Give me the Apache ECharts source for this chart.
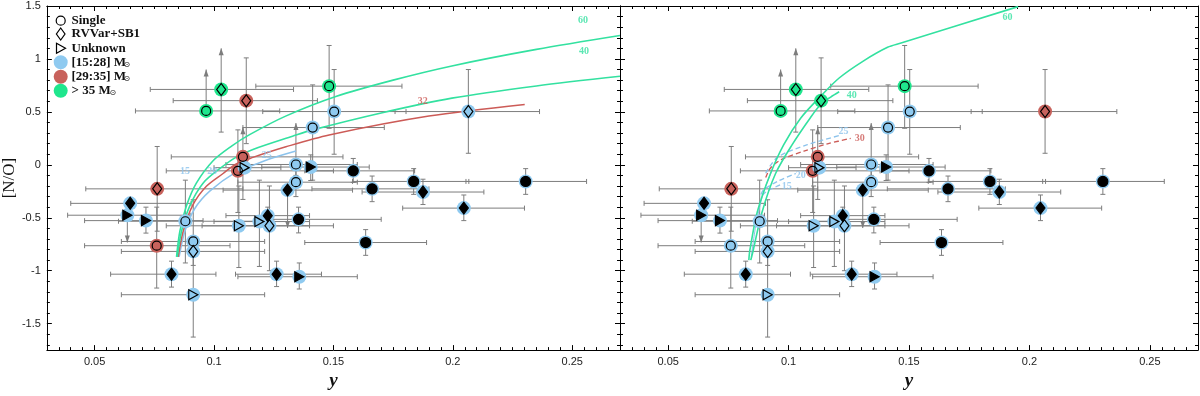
<!DOCTYPE html>
<html>
<head>
<meta charset="utf-8">
<script src="https://cdn.jsdelivr.net/npm/echarts@6.0.0/dist/echarts.min.js"></script>
<style>
    html, body { margin: 0; padding: 0; background: #fff; }
    #chart { width: 1200px; height: 396px; }
</style>
</head>
<body>
<div id="chart"></div>
<script>
    // stars: helium abundance y, [N/O], error bars, arrow (1 up / -1 down limit)
    var ptX = [0.0967,0.103,0.1135,0.1482,0.1503,0.1413,0.2065,0.1121,0.110,0.1128,0.0762,0.076,0.0649,0.0637,0.0715,0.088,0.0913,0.0913,0.0913,0.0822,0.1104,0.119,0.1232,0.1225,0.1262,0.1357,0.1354,0.1308,0.1343,0.1343,0.1405,0.1583,0.1662,0.1836,0.1875,0.2046,0.2305,0.1635];
    var ptY = [0.509,0.712,0.606,0.743,0.503,0.352,0.503,0.075,-0.057,-0.027,-0.227,-0.764,-0.364,-0.476,-0.527,-0.533,-0.724,-0.818,-1.227,-1.033,-0.576,-0.536,-0.576,-0.48,-1.033,-1.057,-0.515,-0.239,-0.164,0.003,-0.021,-0.057,-0.227,-0.157,-0.257,-0.409,-0.157,-0.734];
    var xLo = [0.0671,0.0733,0.0829,0.1175,0.1204,0.1121,0.1758,0.0821,0.080,0.100,0.0463,0.0458,0.040,0.0387,0.0458,0.060,0.0612,0.0612,0.0612,0.0567,0.080,0.100,0.095,0.105,0.109,0.110,0.120,0.1038,0.110,0.105,0.120,0.138,0.141,0.158,0.162,0.179,0.2055,0.138];
    var xHi = [0.1275,0.1333,0.1433,0.1787,0.1804,0.1713,0.2363,0.154,0.150,0.128,0.1121,0.1067,0.0904,0.090,0.0954,0.125,0.1212,0.1212,0.1212,0.1008,0.140,0.140,0.150,0.140,0.145,0.160,0.170,0.158,0.160,0.160,0.165,0.184,0.190,0.2067,0.213,0.230,0.256,0.189];
    var yLo = [0.509,0.309,0.20,0.345,0.10,-0.145,0.109,-0.327,-0.45,-0.027,-0.627,-1.164,-0.364,-0.733,-0.645,-0.927,-0.95,-0.818,-1.627,-1.155,-0.97,-0.96,-1.0,-0.55,-1.15,-1.173,-0.643,-0.597,-0.30,-0.10,-0.148,-0.166,-0.348,-0.279,-0.375,-0.527,-0.279,-0.855];
    var yHi = [0.90,1.10,1.01,1.127,0.90,0.755,0.90,0.355,0.33,-0.027,0.173,-0.40,-0.364,-0.476,-0.40,-0.145,-0.33,-0.818,-0.85,-0.91,-0.20,-0.145,-0.20,-0.40,-0.91,-0.927,-0.40,-0.239,-0.05,0.394,0.094,0.06,-0.106,-0.036,-0.136,-0.285,-0.036,-0.612];
    var ptArrow = [1,1,0,0,0,0,0,1,0,0,0,0,0,-1,0,0,0,0,0,0,0,0,0,0,0,0,0,-1,0,1,0,0,0,0,0,0,0,0];
    // c = single, d = RVVar+SB1, t = unknown
    var ptShape = ['c','d','d','c','c','c','d','c','c','t','d','c','d','t','t','c','c','d','t','d','t','t','d','d','d','t','c','d','c','c','t','c','c','c','d','d','c','c'];
    var ptFilled = [0,0,0,0,0,0,0,0,0,0,0,0,1,1,1,0,0,0,0,1,0,0,0,1,1,1,1,1,0,0,1,1,1,1,1,1,1,1];
    // mass class: 0 = [15:28], 1 = [29:35], 2 = >35
    var massLeft  = [2,2,1,2,0,0,0,1,1,0,1,1,0,0,0,0,0,0,0,0,0,0,0,0,0,0,0,0,0,0,0,0,0,0,0,0,0,0];
    var massRight = [2,2,2,2,0,0,1,1,1,0,1,0,0,0,0,0,0,0,0,0,0,0,0,0,0,0,0,0,0,0,0,0,0,0,0,0,0,0];

    // model tracks, left panel
    var trackL60 = [[0.0843,-0.87],[0.0857,-0.627],[0.0885,-0.385],[0.0926,-0.173],[0.0996,0.039],[0.1072,0.175],[0.1149,0.285],[0.13,0.46],[0.151,0.645],[0.175,0.80],[0.1996,0.934],[0.235,1.09],[0.27,1.221]];
    var trackL40 = [[0.0846,-0.87],[0.0864,-0.627],[0.0899,-0.385],[0.0954,-0.173],[0.1024,-0.036],[0.1093,0.073],[0.1163,0.145],[0.1329,0.27],[0.1413,0.33],[0.17,0.49],[0.1996,0.63],[0.235,0.745],[0.27,0.836]];
    var trackL32 = [[0.085,-0.87],[0.0871,-0.627],[0.091,-0.385],[0.0968,-0.203],[0.1038,-0.082],[0.1093,0.009],[0.1163,0.07],[0.1301,0.17],[0.1482,0.282],[0.19,0.46],[0.2301,0.57]];
    var trackL25 = [[0.0854,-0.87],[0.0878,-0.627],[0.0919,-0.415],[0.0982,-0.249],[0.1093,-0.067],[0.1163,-0.005],[0.1232,0.055],[0.1343,0.13]];
    // model tracks, right panel
    var trackR60 = [[0.0835,-0.9],[0.0839,-0.809],[0.087,-0.445],[0.0925,-0.082],[0.098,0.191],[0.105,0.44],[0.113,0.64],[0.121,0.82],[0.131,0.98],[0.1411,1.11],[0.1467,1.15],[0.1953,1.494]];
    var trackR40 = [[0.0843,-0.9],[0.0853,-0.809],[0.089,-0.445],[0.0946,-0.082],[0.1015,0.191],[0.1092,0.45],[0.1133,0.57],[0.1175,0.64],[0.121,0.69]];
    var trackRBlue = [[0.0845,-0.87],[0.0862,-0.6],[0.0885,-0.35],[0.0905,-0.2],[0.093,-0.06]];
    var trackR30 = [[0.0905,-0.12],[0.0925,-0.03],[0.097,0.05],[0.1064,0.13],[0.1165,0.2],[0.1258,0.25]];
    var trackR25 = [[0.0905,-0.08],[0.0953,0.07],[0.1078,0.19],[0.1217,0.28]];
    var trackR20 = [[0.0885,-0.28],[0.0897,-0.234],[0.096,-0.15],[0.103,-0.082]];
    var trackR15 = [[0.089,-0.29],[0.0911,-0.248],[0.0967,-0.188]];

    // track mass tags
    var tagTextL = ['60','40','32','25','15','20'];
    var tagXL = [0.2545,0.2549,0.1874,0.1221,0.0878,0.0993];
    var tagYL = [1.366,1.07,0.6,0.085,-0.066,-0.066];
    var tagColL = [2,2,1,0,0,0];
    var tagTextR = ['60','40','30','25','20','15'];
    var tagXR = [0.1909,0.1262,0.1295,0.1228,0.105,0.0992];
    var tagYR = [1.388,0.655,0.252,0.32,-0.097,-0.203];
    var tagColR = [2,2,1,0,0,0];

    // tick values
    var xMajor = [0.05,0.1,0.15,0.2,0.25];
    var yMajor = [-1.5,-1,-0.5,0,0.5,1,1.5];
    var xMinor = [], yMinor = [];
    for (var k = 7; k <= 53; k++) { if (k % 10 !== 0) xMinor.push(k * 0.005); }
    for (var k = -17; k <= 14; k++) { if (k % 5 !== 0) yMinor.push(k / 10); }

    var MASS_COL = ['#8fcaf0', '#c8625c', '#1fe68d'];
    var LINE_COL = ['#8cc3ec', '#cc5b57', '#33e1a0'];
    var BAR_COL = '#7d7d7d';
    var SHAPE = {c: 'circle', d: 'diamond', t: 'path://M0,0L10,5L0,10Z'};

    function capV(p) {
        return {type: 'line', shape: {x1: p[0], y1: p[1] - 2.5, x2: p[0], y2: p[1] + 2.5}, style: {stroke: BAR_COL, lineWidth: 1}};
    }
    function capH(p) {
        return {type: 'line', shape: {x1: p[0] - 2.5, y1: p[1], x2: p[0] + 2.5, y2: p[1]}, style: {stroke: BAR_COL, lineWidth: 1}};
    }
    function head(p, dir) {
        // dir -1: pointing up, 1: pointing down
        return {type: 'polygon', shape: {points: [[p[0], p[1]], [p[0] - 2.5, p[1] - dir * 7], [p[0] + 2.5, p[1] - dir * 7]]}, style: {fill: BAR_COL}};
    }
    function renderErr(params, api) {
        var x = api.value(0), y = api.value(1), arr = api.value(6);
        var lx = api.value(2), hx = api.value(3), ly = api.value(4), hy = api.value(5);
        var kids = [];
        var st = {stroke: BAR_COL, lineWidth: 1};
        if (hx > lx) {
            var a = api.coord([lx, y]), b = api.coord([hx, y]);
            kids.push({type: 'line', shape: {x1: a[0], y1: a[1], x2: b[0], y2: b[1]}, style: st});
            kids.push(capV(a), capV(b));
        }
        if (hy > ly) {
            var lo = api.coord([x, ly]), hi = api.coord([x, hy]);
            kids.push({type: 'line', shape: {x1: lo[0], y1: lo[1], x2: hi[0], y2: hi[1]}, style: st});
            if (arr === 1) kids.push(head(hi, -1)); else if (hy > y) kids.push(capH(hi));
            if (arr === -1) kids.push(head(lo, 1)); else if (ly < y) kids.push(capH(lo));
        }
        return {type: 'group', children: kids};
    }

    var errData = ptX.map(function (x, i) { return [x, ptY[i], xLo[i], xHi[i], yLo[i], yHi[i], ptArrow[i]]; });

    function axisSet(g) {
        var base = {gridIndex: g, type: 'value', splitLine: {show: false}};
        var xs = [
            Object.assign({}, base, {min: 0.03, max: 0.27, position: 'bottom',
                name: 'y', nameLocation: 'middle', nameGap: 14,
                nameTextStyle: {fontFamily: 'Liberation Serif', fontStyle: 'italic', fontWeight: 'bold', fontSize: 19, color: '#111'},
                axisLine: {onZero: false, lineStyle: {color: '#000', width: 1}},
                axisTick: {inside: true, length: 5, customValues: xMajor, lineStyle: {color: '#000'}},
                axisLabel: {customValues: xMajor, color: '#222', fontSize: 11, fontFamily: 'Liberation Sans', margin: 6}}),
            Object.assign({}, base, {min: 0.03, max: 0.27, position: 'bottom',
                axisLine: {show: false, onZero: false},
                axisTick: {inside: true, length: 3, customValues: xMinor, lineStyle: {color: '#000'}},
                axisLabel: {show: false}}),
            Object.assign({}, base, {min: 0.03, max: 0.27, position: 'top',
                axisLine: {onZero: false, lineStyle: {color: '#000', width: 1}},
                axisTick: {inside: true, length: 5, customValues: xMajor, lineStyle: {color: '#000'}},
                axisLabel: {show: false}}),
            Object.assign({}, base, {min: 0.03, max: 0.27, position: 'top',
                axisLine: {show: false, onZero: false},
                axisTick: {inside: true, length: 3, customValues: xMinor, lineStyle: {color: '#000'}},
                axisLabel: {show: false}})
        ];
        var ys = [
            Object.assign({}, base, {min: -1.75, max: 1.5, position: 'left',
                name: g === 0 ? '[N/O]' : '', nameLocation: 'middle', nameGap: 27, nameRotate: 90,
                nameTextStyle: {fontFamily: 'Liberation Serif', fontSize: 17, color: '#111'},
                axisLine: {onZero: false, lineStyle: {color: '#000', width: 1}},
                axisTick: {inside: true, length: 5, customValues: yMajor, lineStyle: {color: '#000'}},
                axisLabel: {show: g === 0, customValues: yMajor, color: '#222', fontSize: 11, fontFamily: 'Liberation Sans', margin: 6}}),
            Object.assign({}, base, {min: -1.75, max: 1.5, position: 'left',
                axisLine: {show: false, onZero: false},
                axisTick: {inside: true, length: 3, customValues: yMinor, lineStyle: {color: '#000'}},
                axisLabel: {show: false}}),
            Object.assign({}, base, {min: -1.75, max: 1.5, position: 'right',
                axisLine: {onZero: false, lineStyle: {color: '#000', width: 1}},
                axisTick: {inside: true, length: 5, customValues: yMajor, lineStyle: {color: '#000'}},
                axisLabel: {show: false}}),
            Object.assign({}, base, {min: -1.75, max: 1.5, position: 'right',
                axisLine: {show: false, onZero: false},
                axisTick: {inside: true, length: 3, customValues: yMinor, lineStyle: {color: '#000'}},
                axisLabel: {show: false}})
        ];
        return {x: xs, y: ys};
    }

    function track(ai, data, col, width, dashed) {
        return {type: 'line', xAxisIndex: ai, yAxisIndex: ai, data: data, showSymbol: false, symbol: 'none',
            smooth: 0.3, z: 2, silent: true,
            lineStyle: {color: col, width: width, type: dashed ? [5, 3] : 'solid'}};
    }

    function panelSeries(ai, mass, tracks, tagText, tagX, tagY, tagCol) {
        var out = [];
        out.push({type: 'custom', xAxisIndex: ai, yAxisIndex: ai, renderItem: renderErr, data: errData,
            encode: {x: 0, y: 1}, z: 1, silent: true, clip: true});
        tracks.forEach(function (t) { out.push(t); });
        out.push({type: 'scatter', xAxisIndex: ai, yAxisIndex: ai, symbolSize: 14, z: 3, silent: true,
            data: ptX.map(function (x, i) { return {value: [x, ptY[i]], itemStyle: {color: MASS_COL[mass[i]], opacity: 1}}; })});
        out.push({type: 'scatter', xAxisIndex: ai, yAxisIndex: ai, z: 4, silent: true,
            data: ptX.map(function (x, i) {
                var s = ptShape[i];
                var size = s === 'c' ? (ptFilled[i] ? 10 : 9) : (s === 'd' ? [9, 12] : [9, 10]);
                return {value: [x, ptY[i]], symbol: SHAPE[s], symbolSize: size,
                    itemStyle: {color: ptFilled[i] ? '#000' : 'rgba(0,0,0,0)', borderColor: '#000', borderWidth: 1.2, opacity: 1}};
            })});
        out.push({type: 'scatter', xAxisIndex: ai, yAxisIndex: ai, symbolSize: 1, z: 5, silent: true,
            itemStyle: {color: 'rgba(0,0,0,0)'},
            data: tagText.map(function (t, i) {
                return {value: [tagX[i], tagY[i]], label: {show: true, position: 'inside', formatter: t,
                    color: LINE_COL[tagCol[i]], fontFamily: 'Liberation Serif', fontWeight: 'bold', fontSize: 10}};
            })});
        return out;
    }

    var a0 = axisSet(0), a1 = axisSet(1);
    var series = [].concat(
        panelSeries(0, massLeft, [
            track(0, trackL25, LINE_COL[0], 1.5),
            track(0, trackL32, LINE_COL[1], 1.5),
            track(0, trackL40, LINE_COL[2], 1.6),
            track(0, trackL60, LINE_COL[2], 1.6)
        ], tagTextL, tagXL, tagYL, tagColL),
        panelSeries(4, massRight, [
            track(4, trackRBlue, LINE_COL[0], 1),
            track(4, trackR15, LINE_COL[0], 1.3, true),
            track(4, trackR20, LINE_COL[0], 1.3, true),
            track(4, trackR25, LINE_COL[0], 1.3, true),
            track(4, trackR30, LINE_COL[1], 1.3, true),
            track(4, trackR40, LINE_COL[2], 1.6),
            track(4, trackR60, LINE_COL[2], 1.6)
        ], tagTextR, tagXR, tagYR, tagColR)
    );

    // legend drawn in pixel space
    var lgY = [20.7, 34, 48.3, 62.3, 76.7, 90.7];
    var lgText = ['Single', 'RVVar+SB1', 'Unknown', '[15:28] M', '[29:35] M', '> 35 M'];
    var sunX = [0, 0, 0, 123.5, 123.5, 109.5];
    var lgFont = {fontFamily: 'Liberation Serif', fontWeight: 'bold', fontSize: 13, fill: '#111'};
    var graphic = [
        {type: 'circle', shape: {cx: 60.7, cy: lgY[0], r: 4.5}, style: {fill: 'none', stroke: '#000', lineWidth: 1.2}},
        {type: 'polygon', shape: {points: [[60.7, lgY[1] - 6], [65, lgY[1]], [60.7, lgY[1] + 6], [56.4, lgY[1]]]}, style: {fill: 'none', stroke: '#000', lineWidth: 1.2}},
        {type: 'polygon', shape: {points: [[56.5, lgY[2] - 5], [65.5, lgY[2]], [56.5, lgY[2] + 5]]}, style: {fill: 'none', stroke: '#000', lineWidth: 1.2}},
        {type: 'circle', shape: {cx: 60.7, cy: lgY[3], r: 7}, style: {fill: MASS_COL[0]}},
        {type: 'circle', shape: {cx: 60.7, cy: lgY[4], r: 7}, style: {fill: MASS_COL[1]}},
        {type: 'circle', shape: {cx: 60.7, cy: lgY[5], r: 7}, style: {fill: MASS_COL[2]}}
    ];
    lgText.forEach(function (t, i) {
        graphic.push({type: 'text', x: 71.5, y: lgY[i], style: Object.assign({text: t, verticalAlign: 'middle'}, lgFont)});
        if (sunX[i]) {
            graphic.push({type: 'text', x: sunX[i], y: lgY[i] + 2.5, style: {text: '\u2299', fontSize: 8, fontFamily: 'DejaVu Sans', fill: '#111', verticalAlign: 'middle'}});
        }
    });

    var myChart = echarts.init(document.getElementById('chart'));
    myChart.setOption({
        animation: false,
        backgroundColor: '#fff',
        grid: [
            {left: 43, top: 6, width: 577, height: 357},
            {left: 620, top: 6, width: 578, height: 357}
        ],
        xAxis: a0.x.concat(a1.x),
        yAxis: a0.y.concat(a1.y),
        series: series,
        graphic: graphic
    });
</script>
</body>
</html>
